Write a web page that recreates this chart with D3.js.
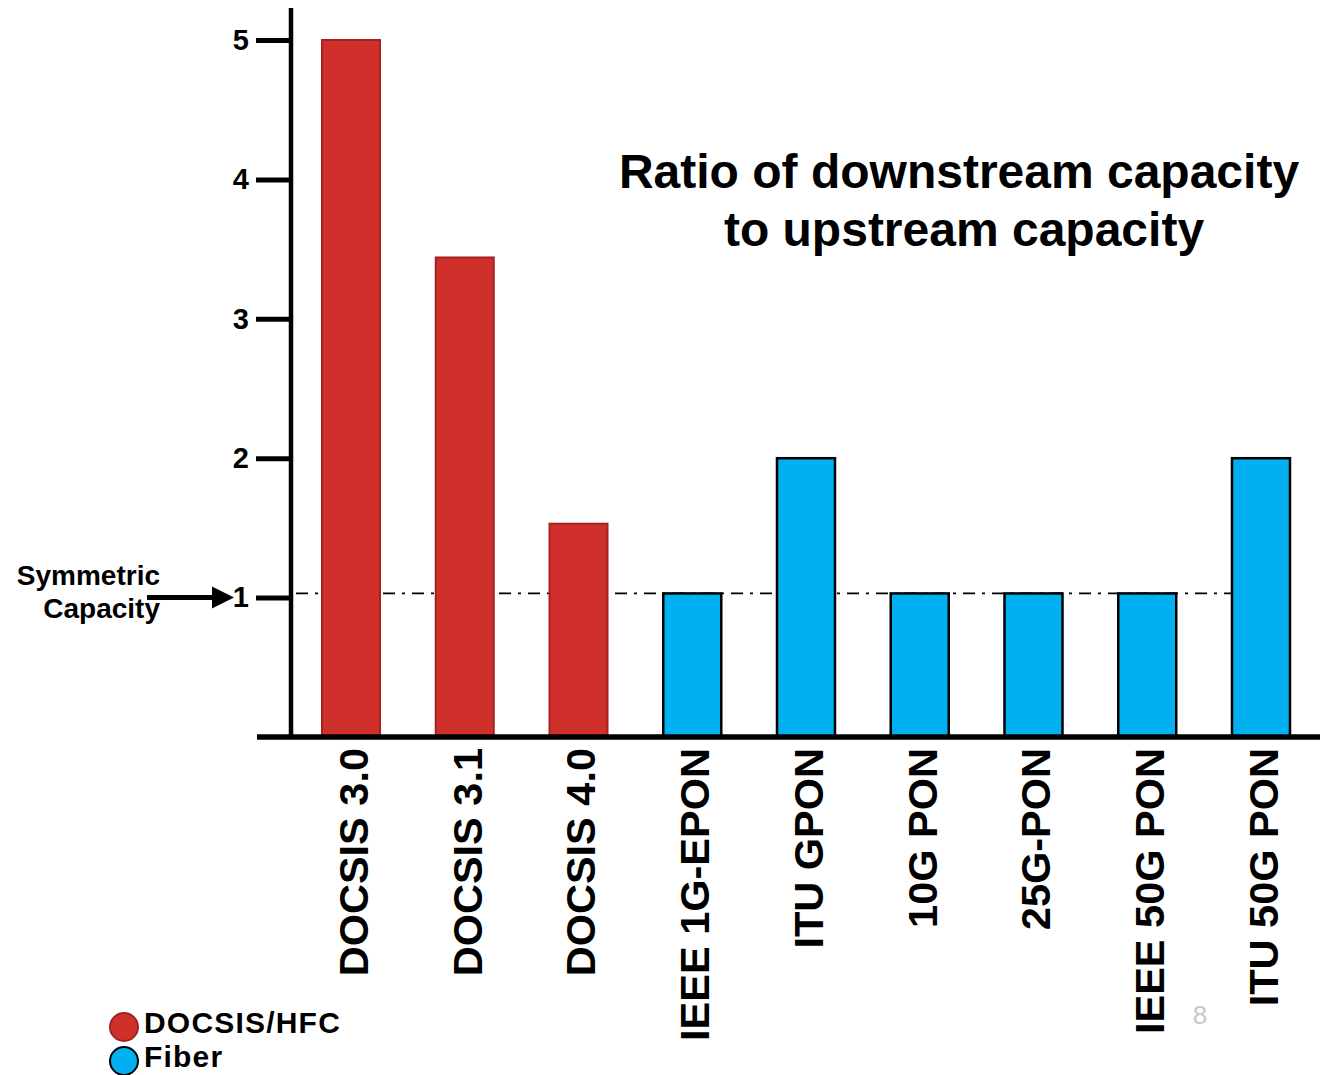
<!DOCTYPE html>
<html>
<head>
<meta charset="utf-8">
<script src="https://cdn.jsdelivr.net/npm/d3@7"></script>
<style>
  html, body { margin: 0; padding: 0; background: #fff; }
  svg { display: block; font-family: "Liberation Sans", Arial, sans-serif; }
</style>
</head>
<body>
<svg id="chart" width="1332" height="1075"></svg>
<script>
// Downstream/upstream capacity ratio per access technology
const categories = ["DOCSIS 3.0", "DOCSIS 3.1", "DOCSIS 4.0", "IEEE 1G-EPON", "ITU GPON",
                    "10G PON", "25G-PON", "IEEE 50G PON", "ITU 50G PON"];
const ratios = [5, 3.44, 1.53, 1.03, 2, 1.03, 1.03, 1.03, 2];
const families = ["DOCSIS/HFC", "DOCSIS/HFC", "DOCSIS/HFC", "Fiber", "Fiber",
                  "Fiber", "Fiber", "Fiber", "Fiber"];
const yTicks = [1, 2, 3, 4, 5];
const symmetricTick = 1;
const symmetricLine = 1.03;
const legendLabels = ["DOCSIS/HFC", "Fiber"];
const titleLines = ["Ratio of downstream capacity", "to upstream capacity"];
const sideNote = ["Symmetric", "Capacity"];

const fillColor = { "DOCSIS/HFC": "#D0302C", "Fiber": "#00B0F0" };
const edgeColor = { "DOCSIS/HFC": "#A52222", "Fiber": "#000000" };
const edgeWidth = { "DOCSIS/HFC": 2, "Fiber": 2.5 };

const svg = d3.select("#chart");

const x = d3.scaleBand()
  .domain(categories)
  .range([322, 1290])
  .paddingInner(0.49)
  .paddingOuter(0);

const y = d3.scaleLinear().domain([0, 5]).range([737, 40]);

// Symmetric-capacity reference (dash-dot), behind the bars
svg.append("line")
  .attr("x1", 296).attr("x2", 1290)
  .attr("y1", y(symmetricLine)).attr("y2", y(symmetricLine))
  .attr("stroke", "#000").attr("stroke-width", 1.6)
  .attr("stroke-dasharray", "12,7,3,7");

// Bars
svg.append("g").selectAll("rect")
  .data(categories)
  .join("rect")
  .attr("x", d => x(d))
  .attr("width", x.bandwidth())
  .attr("y", (d, i) => y(ratios[i]))
  .attr("height", (d, i) => y(0) - y(ratios[i]))
  .attr("fill", (d, i) => fillColor[families[i]])
  .attr("stroke", (d, i) => edgeColor[families[i]])
  .attr("stroke-width", (d, i) => edgeWidth[families[i]]);

// Y axis: ticks and labels
const yAxis = d3.axisLeft(y).tickValues(yTicks).tickSize(35).tickPadding(7).tickFormat(d3.format("d"));
const gy = svg.append("g").attr("transform", "translate(291,0)").call(yAxis);
gy.select(".domain").remove();
gy.selectAll(".tick line").attr("stroke", "#000").attr("stroke-width", 5);
gy.selectAll(".tick text")
  .attr("font-size", 29).attr("font-weight", "bold").attr("fill", "#000")
  .attr("font-family", "'Liberation Sans', Arial, sans-serif");

// Axis lines
svg.append("line").attr("x1", 291).attr("x2", 291).attr("y1", 8).attr("y2", 739)
  .attr("stroke", "#000").attr("stroke-width", 4.5);
svg.append("line").attr("x1", 257).attr("x2", 1320).attr("y1", 737).attr("y2", 737)
  .attr("stroke", "#000").attr("stroke-width", 5.5);

// Category labels, rotated
svg.append("g").selectAll("text")
  .data(categories)
  .join("text")
  .attr("transform", d => `translate(${x(d) + x.bandwidth() / 2 + 2},748) rotate(-90)`)
  .attr("dy", "0.36em")
  .attr("text-anchor", "end")
  .attr("font-size", 41.5)
  .attr("font-weight", "bold")
  .attr("fill", "#000")
  .text(d => d);

// Title
svg.append("text")
  .attr("x", 960).attr("y", 188)
  .attr("text-anchor", "middle")
  .attr("font-size", 48).attr("font-weight", "bold").attr("fill", "#000")
  .selectAll("tspan")
  .data(titleLines)
  .join("tspan")
  .attr("x", (d, i) => i === 0 ? 959 : 964)
  .attr("dy", (d, i) => i === 0 ? 0 : 58)
  .text(d => d);

// Symmetric capacity note with arrow
svg.append("text")
  .attr("text-anchor", "end")
  .attr("font-size", 28).attr("font-weight", "bold").attr("fill", "#000")
  .selectAll("tspan")
  .data(sideNote)
  .join("tspan")
  .attr("x", 160)
  .attr("y", (d, i) => 585 + i * 33)
  .text(d => d);

svg.append("line")
  .attr("x1", 147).attr("x2", 215)
  .attr("y1", y(symmetricTick)).attr("y2", y(symmetricTick))
  .attr("stroke", "#000").attr("stroke-width", 5);
svg.append("path")
  .attr("d", `M212,${y(symmetricTick) - 11} L234,${y(symmetricTick)} L212,${y(symmetricTick) + 11} Z`)
  .attr("fill", "#000");

// Legend
const legend = svg.append("g").selectAll("g")
  .data(legendLabels)
  .join("g")
  .attr("transform", (d, i) => `translate(124,${1023 + i * 34})`);
legend.append("circle")
  .attr("cy", 4)
  .attr("r", 14)
  .attr("fill", d => fillColor[d])
  .attr("stroke", d => edgeColor[d])
  .attr("stroke-width", 2);
legend.append("text")
  .attr("x", 20).attr("y", 10)
  .attr("font-size", 30).attr("font-weight", "bold").attr("fill", "#000")
  .attr("letter-spacing", 1.2)
  .text(d => d);

// Page number
svg.append("text")
  .attr("x", 1200).attr("y", 1024)
  .attr("text-anchor", "middle")
  .attr("font-size", 26).attr("fill", "#c8c8c8")
  .text("8");
</script>
</body>
</html>
